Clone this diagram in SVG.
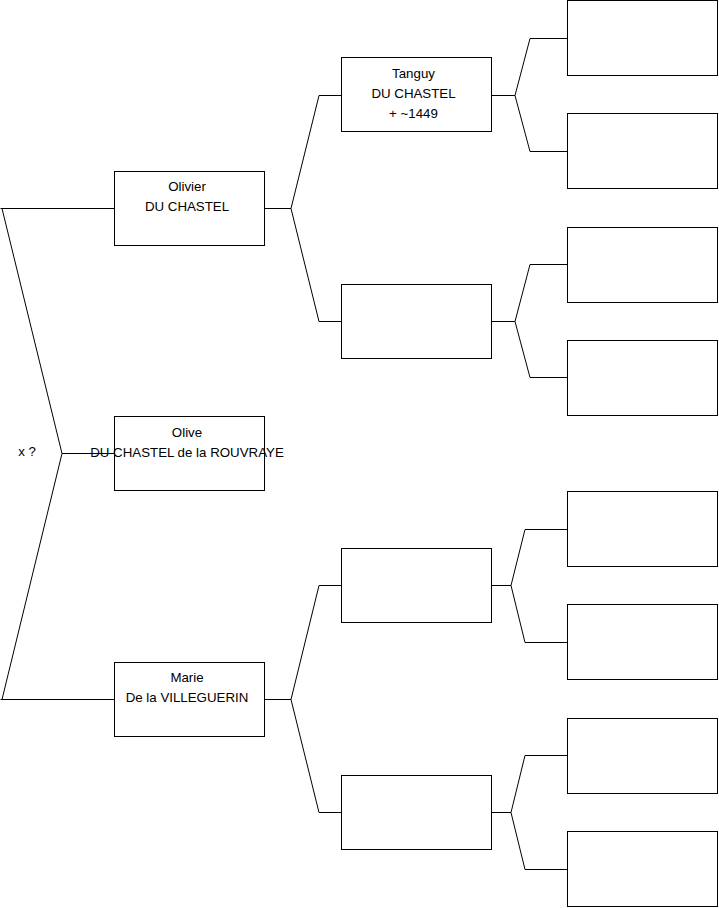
<svg xmlns="http://www.w3.org/2000/svg" width="719" height="908" viewBox="0 0 719 908">
<style>
.box{fill:#fff;stroke:#000;stroke-width:1}
.ln{fill:none;stroke:#000;stroke-width:1}
text{font-family:"Liberation Sans",Arial,sans-serif;font-size:13.3px;fill:#000;text-anchor:middle}
</style>
<rect width="719" height="908" fill="#fff"/>
<g id="connectors">
<path class="ln" d="M0.5,208.5 H114 M2,208.5 L62,453.5 L2,699.5 M0.5,699.5 H114 M62,453.5 H114"/>
<path class="ln" d="M265,208.5 H291 L319,95.5 H341 M291,208.5 L319,321.5 H341"/>
<path class="ln" d="M265,699.5 H291 L319,585.5 H341 M291,699.5 L319,812.5 H341"/>
<path class="ln" d="M492,95.5 H515 L530,38.5 H567 M515,95.5 L530,151.5 H567"/>
<path class="ln" d="M492,321.5 H515 L530,264.5 H567 M515,321.5 L530,377.5 H567"/>
<path class="ln" d="M492,585.5 H511 L525,529.5 H567 M511,585.5 L525,642.5 H567"/>
<path class="ln" d="M492,812.5 H511 L525,755.5 H567 M511,812.5 L525,869.5 H567"/>
</g>
<text id="x-label" x="27" y="456">x ?</text>
<g id="olivier"><rect class="box" x="114.5" y="171.5" width="150" height="74"/><text x="187" y="191">Olivier</text><text x="187" y="211">DU CHASTEL</text></g>
<g id="olive"><rect class="box" x="114.5" y="416.5" width="150" height="74"/><text x="187" y="437">Olive</text><text x="187" y="457">DU CHASTEL de la ROUVRAYE</text></g>
<g id="marie"><rect class="box" x="114.5" y="662.5" width="150" height="74"/><text x="187" y="682">Marie</text><text x="187" y="702">De la VILLEGUERIN</text></g>
<g id="tanguy"><rect class="box" x="341.5" y="57.5" width="150" height="74"/><text x="413.5" y="78">Tanguy</text><text x="413.5" y="98">DU CHASTEL</text><text x="413.5" y="118">+ ~1449</text></g>
<g id="p2b"><rect class="box" x="341.5" y="284.5" width="150" height="74"/></g>
<g id="p2c"><rect class="box" x="341.5" y="548.5" width="150" height="74"/></g>
<g id="p2d"><rect class="box" x="341.5" y="775.5" width="150" height="74"/></g>
<g id="p3a"><rect class="box" x="567.5" y="0.5" width="150" height="75"/></g>
<g id="p3b"><rect class="box" x="567.5" y="113.5" width="150" height="75"/></g>
<g id="p3c"><rect class="box" x="567.5" y="227.5" width="150" height="75"/></g>
<g id="p3d"><rect class="box" x="567.5" y="340.5" width="150" height="75"/></g>
<g id="p3e"><rect class="box" x="567.5" y="491.5" width="150" height="75"/></g>
<g id="p3f"><rect class="box" x="567.5" y="604.5" width="150" height="75"/></g>
<g id="p3g"><rect class="box" x="567.5" y="718.5" width="150" height="75"/></g>
<g id="p3h"><rect class="box" x="567.5" y="831.5" width="150" height="75"/></g>
</svg>
